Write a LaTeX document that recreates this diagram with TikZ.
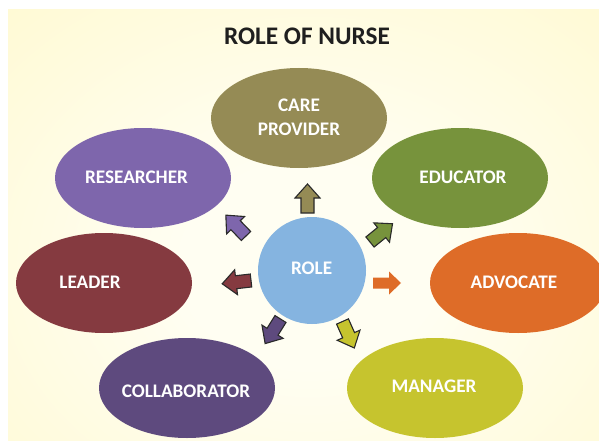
\documentclass[tikz,border=0pt]{standalone}
\usepackage{fontspec}
\setmainfont{Carlito}
\usetikzlibrary{shapes.geometric}
\definecolor{bgin}{HTML}{FFFEF2}
\definecolor{bgout}{HTML}{FFF7C2}
\definecolor{cCare}{HTML}{958B55}
\definecolor{cRes}{HTML}{7E66AC}
\definecolor{cEdu}{HTML}{77933C}
\definecolor{cLead}{HTML}{853A40}
\definecolor{cAdv}{HTML}{DE6C28}
\definecolor{cCol}{HTML}{5E4A7E}
\definecolor{cMan}{HTML}{C6C42E}
\definecolor{cRole}{HTML}{85B4E0}
\definecolor{cEdge}{HTML}{2A2A2A}
\pgfdeclareradialshading{bgshade}{\pgfpoint{0bp}{0bp}}{color(0bp)=(bgin); color(8bp)=(bgin); color(40bp)=(bgout); color(60bp)=(bgout)}
\tikzset{
  bubble/.style={ellipse, minimum width=176pt, minimum height=100pt, inner sep=0pt},
  lbl/.style={text=white, font=\bfseries\fontsize{19.2}{24}\selectfont, align=center, inner sep=0pt},
  blockarrow/.pic={\path[pic actions] (0,-6.5)--(15,-6.5)--(15,-12.5)--(29,0)--(15,12.5)--(15,6.5)--(0,6.5)--cycle;},
  smallarrow/.pic={\path[pic actions] (0,-5.5)--(16,-5.5)--(16,-11.5)--(28,0)--(16,11.5)--(16,5.5)--(0,5.5)--cycle;},
  outl/.style={draw=cEdge, line width=1.1pt, line join=miter}
}
\begin{document}
\begin{tikzpicture}[x=1pt,y=-1pt]
\useasboundingbox (0,0) rectangle (599,441);
\fill[white] (0,0) rectangle (599,441);
\begin{scope}
\clip (8,10) rectangle (599,441);
\shade[shading=bgshade] (-90,-55) rectangle (710,585);
% ellipses
\node[bubble, fill=cCare] (care) at (299,118) {};
\node[bubble, fill=cRes] (res) at (143,178) {};
\node[bubble, fill=cEdu] (edu) at (460,178) {};
\node[bubble, fill=cLead] (lead) at (104,283) {};
\node[bubble, fill=cAdv] (adv) at (518,283) {};
\node[bubble, fill=cCol] (col) at (187,388) {};
\node[bubble, fill=cMan] (man) at (435,388) {};
\node[ellipse, fill=cRole, minimum width=108pt, minimum height=107pt, inner sep=0pt] (role) at (312,270.5) {};
% labels
\node[lbl] (tcare) at (299,117) {CARE\\PROVIDER};
\node[lbl] (tres) at (136.5,177) {RESEARCHER};
\node[lbl] (tedu) at (463,177) {EDUCATOR};
\node[lbl] (tlead) at (90,282) {LEADER};
\node[lbl] (tadv) at (514,282) {ADVOCATE};
\node[lbl] (tcol) at (186,391) {COLLABORATOR};
\node[lbl] (tman) at (434,386) {MANAGER};
\node[lbl] (trole) at (311.6,268) {ROLE};
% arrows
\pic[fill=cCare, outl, rotate=90] at (307.5,213) {blockarrow};
\pic[fill=cRes, outl, rotate=134] at (246,236) {blockarrow};
\pic[fill=cEdu, outl, rotate=39] at (370,242) {blockarrow};
\pic[fill=cLead, outl, rotate=186.5] at (251,280.5) {blockarrow};
\pic[fill=cAdv, rotate=0] at (373,283) {smallarrow};
\pic[fill=cCol, outl, rotate=238] at (280.5,319) {blockarrow};
\pic[fill=cMan, outl, rotate=-66] at (342.5,321.5) {blockarrow};
\end{scope}
\node[font=\bfseries\fontsize{25.3}{30}\selectfont, text=black!88, inner sep=0pt] (title) at (307,36.5) {ROLE OF NURSE};
\end{tikzpicture}
\end{document}
